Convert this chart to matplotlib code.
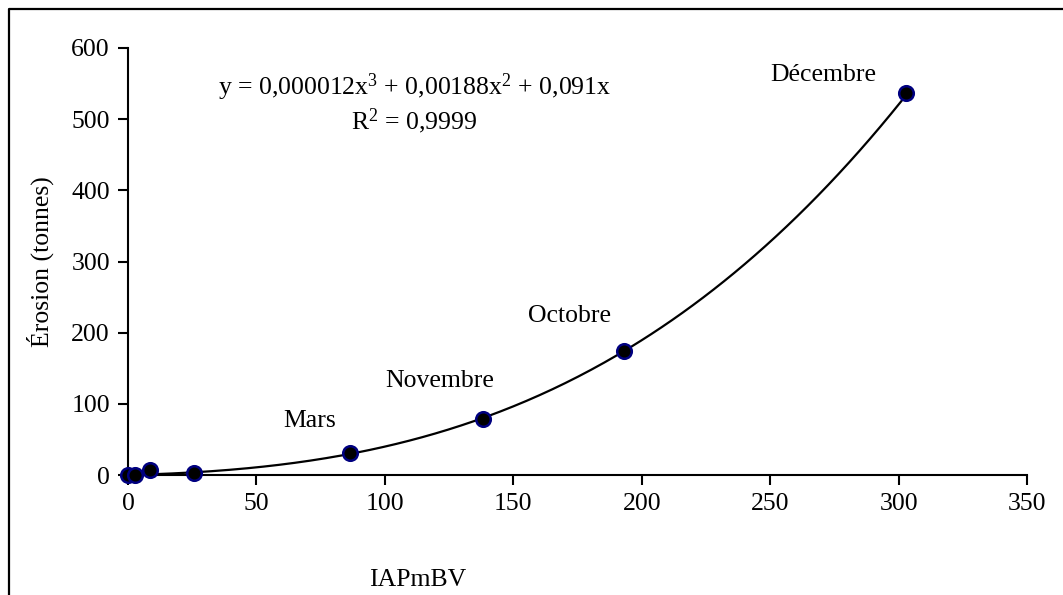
import numpy as np
import matplotlib
matplotlib.use("Agg")
import matplotlib.pyplot as plt
from matplotlib.lines import Line2D

plt.rcParams['font.family'] = ['Liberation Serif', 'DejaVu Serif']
plt.rcParams['mathtext.fontset'] = 'custom'
plt.rcParams['mathtext.rm'] = 'Liberation Serif'
plt.rcParams['mathtext.it'] = 'Liberation Serif'
plt.rcParams['mathtext.default'] = 'rm'

# Data
iapmbv = [0.0, 2.7, 8.6, 25.8, 86.5, 138.2, 193.0, 303.0]
erosion = [0.0, 0.0, 7.0, 2.4, 31.0, 78.7, 174.6, 537.0]
month_labels = ["Mars", "Novembre", "Octobre", "Décembre"]
month_x = [86.5, 138.2, 193.0, 303.0]
month_y = [31.0, 78.7, 174.6, 537.0]
# Trendline coefficients (polynomial order 3, through origin)
coef = [0.000012, 0.00188, 0.091, 0.0]
x_ticks = [0, 50, 100, 150, 200, 250, 300, 350]
y_ticks = [0, 100, 200, 300, 400, 500, 600]

FS = 18.5

fig = plt.figure(figsize=(10.63, 5.95), dpi=100)
ax = fig.add_axes([128/1063, 1-475/595, (1027-128)/1063, (475-48)/595])

xs = np.linspace(0, max(iapmbv), 300)
ax.plot(xs, np.polyval(coef, xs), color='black', lw=1.6, zorder=2)
ax.plot(iapmbv, erosion, 'o', ms=10.5, mfc='black', mec='#000080', mew=1.8, zorder=3, clip_on=False)

# label offsets in points (dx, dy)
offsets = [(-29, 23), (-31, 27), (-39, 25), (-60, 13)]
for lab, x, y, (dx, dy) in zip(month_labels, month_x, month_y, offsets):
    ax.annotate(lab, (x, y), xytext=(dx, dy), textcoords='offset points',
                ha='center', va='center', fontsize=FS)

fig.text(415/1063, 1-95/595, r"y = 0,000012x$^{3}$ + 0,00188x$^{2}$ + 0,091x",
         ha='center', va='baseline', fontsize=FS)
fig.text(414/1063, 1-129/595, r"R$^{2}$ = 0,9999",
         ha='center', va='baseline', fontsize=FS)

ax.set_xlim(0, 350)
ax.set_ylim(0, 600)
ax.set_xticks(x_ticks)
ax.set_yticks(y_ticks)
ax.tick_params(direction='out', length=7, width=1.5, labelsize=FS, pad=6)
for s in ['top', 'right']:
    ax.spines[s].set_visible(False)
for s in ['left', 'bottom']:
    ax.spines[s].set_linewidth(1.5)

fig.text(40/1063, 1-262/595, "Érosion (tonnes)", rotation=90, ha='center', va='center', fontsize=FS)
fig.text(418/1063, 1-580/595, "IAPmBV", ha='center', va='center', fontsize=FS)

# chart area border (left and top visible)
bx = 8.5/1063
by = 1-8.5/595
fig.add_artist(Line2D([bx, bx, 1.01], [-0.01, by, by], transform=fig.transFigure,
                      color='black', lw=1.6))

fig.savefig("out.png", dpi=100)
